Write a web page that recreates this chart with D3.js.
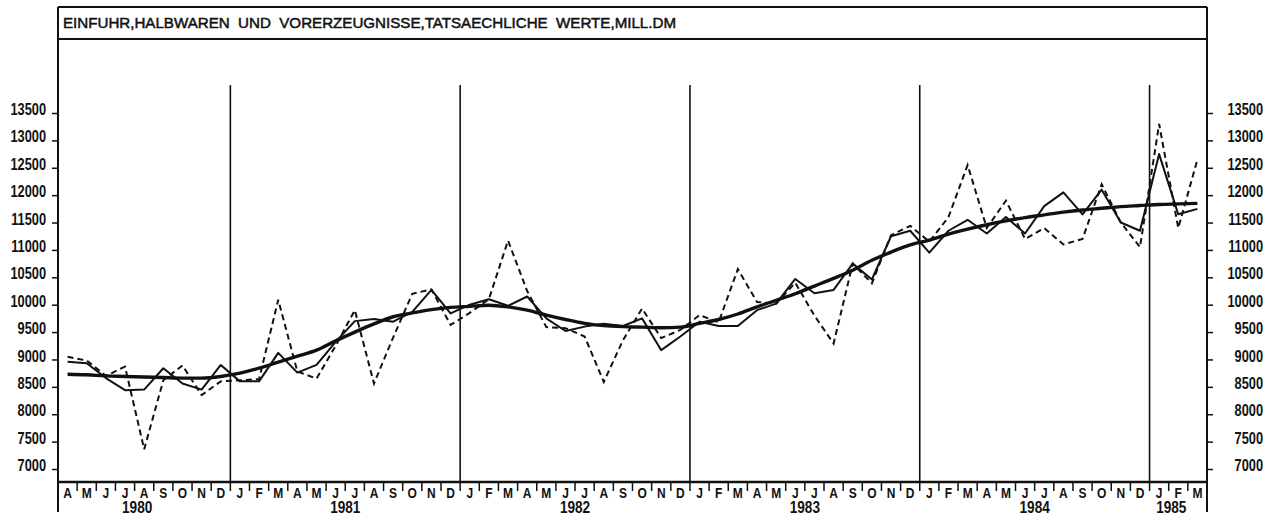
<!DOCTYPE html>
<html>
<head>
<meta charset="utf-8">
<script src="https://cdn.jsdelivr.net/npm/d3@7"></script>
<style>
  body { margin: 0; background: #fff; }
  text { font-family: "Liberation Sans", Arial, sans-serif; fill: #111; }
</style>
</head>
<body>
<script>
// einfuhr, halbwaren und vorerzeugnisse, april 1980 - maerz 1985

var title = "EINFUHR,HALBWAREN  UND  VORERZEUGNISSE,TATSAECHLICHE  WERTE,MILL.DM";

// month letters of one year, series starts in april 1980
var monthLetters = ["J", "F", "M", "A", "M", "J", "J", "A", "S", "O", "N", "D"];
var startMonth = 3;
var years = [1980, 1981, 1982, 1983, 1984, 1985];
var yTicks = [7000, 7500, 8000, 8500, 9000, 9500, 10000, 10500, 11000, 11500, 12000, 12500, 13000, 13500];

// dashed line: actual values
var actual = [
  9050, 8980, 8700, 8870, 7360, 8620, 8890, 8350, 8600,
  8620, 8640, 10090, 8780, 8650, 9250, 9900, 8560, 9400, 10200, 10280, 9630,
  9850, 10100, 11170, 10250, 9590, 9570, 9420, 8590, 9350, 9930, 9390, 9540,
  9810, 9680, 10650, 10050, 10020, 10400, 9800, 9290, 10750, 10390, 11270, 11440,
  11150, 11600, 12550, 11400, 11900, 11200, 11400, 11100, 11200, 12200, 11500, 11050,
  13300, 11400, 12650
];

// thin solid line: seasonally adjusted
var adjusted = [
  8960, 8930, 8660, 8440, 8450, 8840, 8560, 8450, 8900,
  8600, 8600, 9120, 8760, 8900, 9320, 9700, 9740, 9690, 9870, 10270, 9840,
  10000, 10100, 9980, 10150, 9750, 9520, 9600, 9650, 9610, 9750, 9170, 9420,
  9690, 9610, 9610, 9900, 10020, 10470, 10210, 10270, 10750, 10460, 11250, 11350,
  10950, 11350, 11550, 11300, 11600, 11300, 11800, 12050, 11650, 12100, 11500, 11350,
  12750, 11650, 11750
];

// thick line: trend
var trend = [
  8730, 8720, 8700, 8690, 8680, 8670, 8660, 8660, 8690,
  8750, 8840, 8950, 9060, 9170, 9340, 9500, 9650, 9780, 9850, 9910, 9950,
  9970, 9990, 9960, 9900, 9810, 9730, 9660, 9620, 9600, 9590, 9580, 9590,
  9660, 9730, 9830, 9960, 10080, 10200, 10340, 10480, 10630, 10810, 10960, 11090,
  11180, 11290, 11380, 11460, 11530, 11590, 11640, 11690, 11730, 11760, 11790, 11810,
  11830, 11840, 11850
];

var width = 1282;
var height = 520;
var left = 58, right = 1207;
var frameTop = 7, titleBottom = 39, axisY = 482, frameBottom = 512;
var squeeze = 0.8; // plotter font is narrow

// build month list
var months = actual.map(function(d, i) {
  var m = (startMonth + i) % 12;
  var yr = years[0] + Math.floor((startMonth + i) / 12);
  return {i: i, letter: monthLetters[m], month: m, year: yr};
});

var x = d3.scaleBand()
  .domain(d3.range(months.length))
  .range([left, right])
  .padding(0);
var bw = x.bandwidth();

var y = d3.scaleLinear()
  .domain([7000, 13500])
  .range([469, 113]);

var svg = d3.select("body")
  .append("svg")
  .attr("width", width)
  .attr("height", height)
  .style("background", "#fff");

// frame and title box
var frame = svg.append("g").attr("stroke", "#111").attr("fill", "none");
frame.append("line").attr("x1", left).attr("x2", right).attr("y1", frameTop).attr("y2", frameTop).attr("stroke-width", 2);
frame.append("line").attr("x1", left).attr("x2", right).attr("y1", titleBottom).attr("y2", titleBottom).attr("stroke-width", 2);
frame.append("line").attr("x1", left).attr("x2", left).attr("y1", frameTop).attr("y2", frameBottom).attr("stroke-width", 2);
frame.append("line").attr("x1", right).attr("x2", right).attr("y1", frameTop).attr("y2", frameBottom).attr("stroke-width", 2);
frame.append("line").attr("x1", left).attr("x2", right).attr("y1", axisY).attr("y2", axisY).attr("stroke-width", 2.5);

svg.append("text")
  .attr("x", 63)
  .attr("y", 28)
  .attr("textLength", 613)
  .attr("lengthAdjust", "spacingAndGlyphs")
  .attr("stroke", "#111")
  .attr("stroke-width", 0.5)
  .style("font-size", "15px")
  .style("white-space", "pre")
  .text(title);

// year lines
var janIdx = months.filter(function(d) { return d.month === 0; });
svg.selectAll(".yearline")
  .data(janIdx)
  .enter()
  .append("line")
  .attr("class", "yearline")
  .attr("x1", function(d) { return x(d.i); })
  .attr("x2", function(d) { return x(d.i); })
  .attr("y1", 85)
  .attr("y2", axisY)
  .attr("stroke", "#111")
  .attr("stroke-width", 1.6);

// y axes on both sides
var yLeft = svg.append("g")
  .attr("transform", "translate(" + left + ",0)")
  .call(d3.axisLeft(y).tickValues(yTicks).tickSize(6).tickFormat(d3.format("d")));
var yRight = svg.append("g")
  .attr("transform", "translate(" + right + ",0)")
  .call(d3.axisRight(y).tickValues(yTicks).tickSize(6).tickFormat(d3.format("d")));

[yLeft, yRight].forEach(function(g) {
  g.select(".domain").remove();
  g.selectAll("line").attr("stroke", "#111").attr("stroke-width", 1.5);
  g.selectAll("text")
    .attr("dy", "0.1em")
    .attr("text-anchor", "end")
    .attr("transform", "scale(" + squeeze + ",1)")
    .style("font-size", "16px")
    .style("font-weight", "bold")
    .attr("fill", "#111");
});
yLeft.selectAll("text").attr("x", -12 / squeeze);
yRight.selectAll("text").attr("x", 56 / squeeze);

// month separators and letters
svg.selectAll(".sep")
  .data(months.slice(1))
  .enter()
  .append("line")
  .attr("class", "sep")
  .attr("x1", function(d) { return x(d.i); })
  .attr("x2", function(d) { return x(d.i); })
  .attr("y1", axisY)
  .attr("y2", axisY + 9)
  .attr("stroke", "#111")
  .attr("stroke-width", 1.5);

svg.selectAll(".mlabel")
  .data(months)
  .enter()
  .append("text")
  .attr("class", "mlabel")
  .attr("transform", function(d) {
    return "translate(" + (x(d.i) + bw / 2) + ",498) scale(" + squeeze + ",1)";
  })
  .attr("text-anchor", "middle")
  .style("font-size", "15px")
  .style("font-weight", "bold")
  .text(function(d) { return d.letter; });

// year labels, centred over their months
svg.selectAll(".ylabel")
  .data(years)
  .enter()
  .append("text")
  .attr("class", "ylabel")
  .attr("transform", function(yr) {
    var ms = months.filter(function(d) { return d.year === yr; });
    var cx = (x(ms[0].i) + x(ms[ms.length - 1].i) + bw) / 2;
    if (ms.length < 12) cx -= 7;
    return "translate(" + cx + ",513) scale(0.85,1)";
  })
  .attr("text-anchor", "middle")
  .style("font-size", "16px")
  .style("font-weight", "bold")
  .text(function(d) { return d; });

// lines
var line = d3.line()
  .x(function(d, i) { return x(i) + bw / 2; })
  .y(function(d) { return y(d); });

svg.append("path")
  .datum(trend)
  .attr("fill", "none")
  .attr("stroke", "#111")
  .attr("stroke-width", 3.4)
  .attr("d", line.curve(d3.curveMonotoneX));

svg.append("path")
  .datum(adjusted)
  .attr("fill", "none")
  .attr("stroke", "#111")
  .attr("stroke-width", 2)
  .attr("stroke-linejoin", "round")
  .attr("d", line.curve(d3.curveLinear));

svg.append("path")
  .datum(actual)
  .attr("fill", "none")
  .attr("stroke", "#111")
  .attr("stroke-width", 2)
  .attr("stroke-dasharray", "6,4")
  .attr("d", line.curve(d3.curveLinear));
</script>
</body>
</html>
